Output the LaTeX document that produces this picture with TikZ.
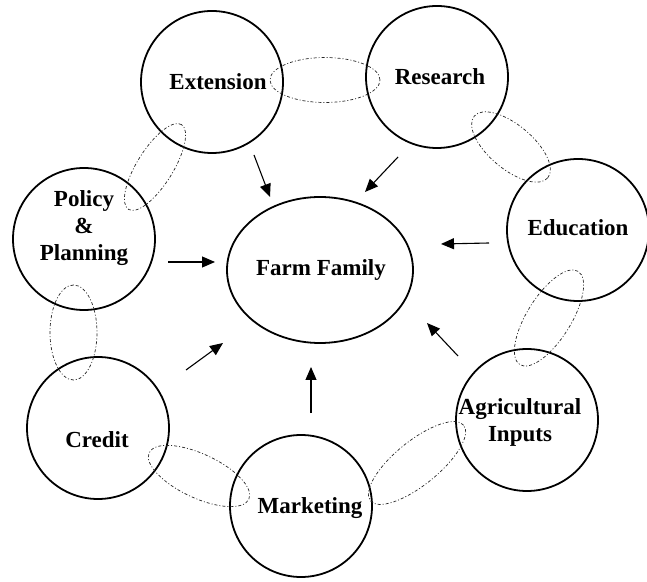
\documentclass[tikz,border=0pt]{standalone}
\usepackage{fontspec}
\setmainfont{Liberation Serif}
\usetikzlibrary{arrows.meta,shapes.geometric}
\begin{document}
\begin{tikzpicture}[x=1pt,y=1pt,
  agency/.style={circle, draw, line width=1.8pt, minimum size=142pt, inner sep=0pt},
  hub/.style={ellipse, draw, line width=1.8pt, minimum width=186pt, minimum height=146pt, inner sep=0pt},
  tag/.style={font=\fontsize{23}{27}\selectfont\bfseries, align=center, inner sep=0pt},
  ring/.style={ellipse, draw=black!85, line width=0.7pt,
    dash pattern=on 3pt off 2pt on 1pt off 2pt, inner sep=0pt},
  flow/.style={line width=1.1pt, -{Triangle[length=13pt,width=11pt]}}
]
\useasboundingbox (0,0) rectangle (647,581);

% central hub
\node[hub] (farm) at (320,311) {};
\node[tag] (farmT) at (321,311) {Farm Family};

% surrounding agencies
\node[agency] (ext) at (212,499) {};
\node[agency] (res) at (437,504) {};
\node[agency] (edu) at (578,351) {};
\node[agency] (agr) at (527,161) {};
\node[agency] (mkt) at (301,75) {};
\node[agency] (cre) at (98,153) {};
\node[agency] (pol) at (84,342) {};

\node[tag] (extT) at (218,499) {Extension};
\node[tag] (resT) at (440,504) {Research};
\node[tag] (eduT) at (578,353) {Education};
\node[tag] (agrT) at (520,159) {Agricultural\\Inputs};
\node[tag] (mktT) at (310,73) {Marketing};
\node[tag] (creT) at (97,141) {Credit};
\node[tag] (polT) at (84,353) {Policy\\\&\\Planning};

% dashed links between neighbouring agencies
\node[ring, minimum width=110pt, minimum height=45pt] (lER) at (325,501) {};
\node[ring, minimum width=100pt, minimum height=36pt, rotate=58] (lEP) at (155,414) {};
\node[ring, minimum width=96pt, minimum height=44pt, rotate=-40] (lRE) at (511,434) {};
\node[ring, minimum width=110pt, minimum height=44pt, rotate=58] (lEA) at (549,263) {};
\node[ring, minimum width=95pt, minimum height=47pt, rotate=90] (lPC) at (73.5,248.5) {};
\node[ring, minimum width=110pt, minimum height=44pt, rotate=-25] (lCM) at (199,105) {};
\node[ring, minimum width=120pt, minimum height=44pt, rotate=39] (lMA) at (417,118) {};

% arrows towards the farm family
\coordinate (extA) at (254,426); \coordinate (extB) at (270,384);
\coordinate (resA) at (398,424); \coordinate (resB) at (365,389);
\coordinate (eduA) at (489,338); \coordinate (eduB) at (441,337);
\coordinate (polA) at (168,319); \coordinate (polB) at (215,319);
\coordinate (creA) at (186,211); \coordinate (creB) at (223,238);
\coordinate (mktA) at (311,168); \coordinate (mktB) at (311,214);
\coordinate (agrA) at (458,225); \coordinate (agrB) at (427,258);

\draw[flow] (extA) -- (extB);
\draw[flow] (resA) -- (resB);
\draw[flow] (eduA) -- (eduB);
\draw[flow] (polA) -- (polB);
\draw[flow] (creA) -- (creB);
\draw[flow] (mktA) -- (mktB);
\draw[flow] (agrA) -- (agrB);
\end{tikzpicture}
\end{document}
